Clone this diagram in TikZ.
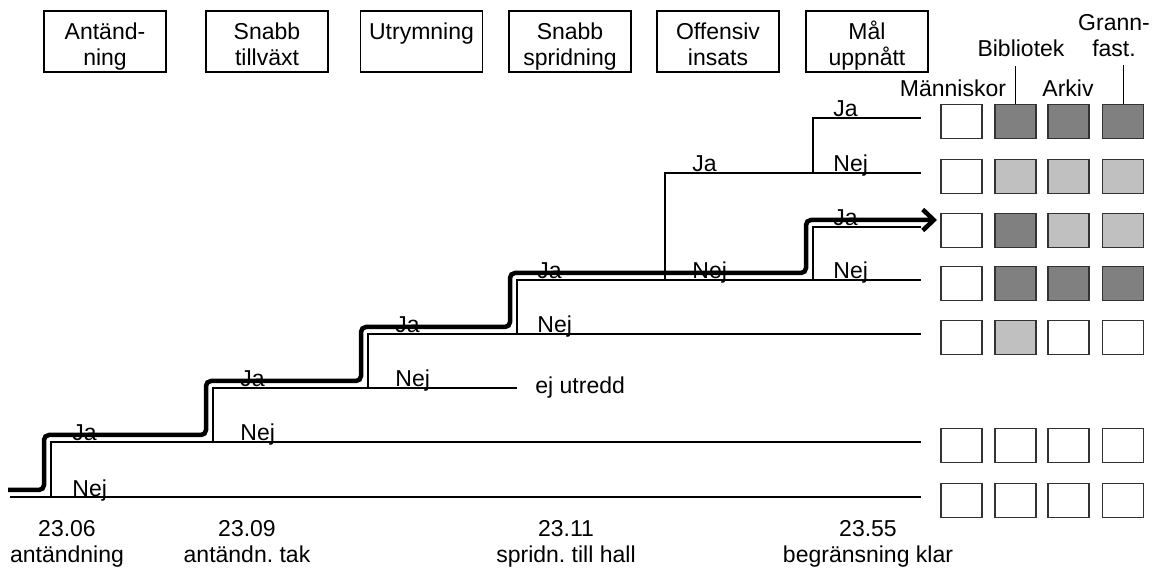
\documentclass[tikz,border=0pt]{standalone}
\usepackage{fontspec}
\setmainfont{Liberation Sans}
\usepackage{tikz}
\usetikzlibrary{arrows.meta,calc}
\definecolor{darkfill}{HTML}{808080}
\definecolor{lightfill}{HTML}{C0C0C0}
\frenchspacing

\begin{document}
\begin{tikzpicture}[%
    x=0.5pt,
    y=-0.5pt,
    every node/.style={font=\fontsize{11.5pt}{13pt}\selectfont},
    branch/.style={line width=0.65pt},
    critpath/.style={%
      ->,
      >={Straight Barb[length=5.5pt,width=10.5pt]},
      line width=2.25pt,
      rounded corners=2.5pt
    },
    stagebox/.style={%
      draw,
      line width=0.75pt,
      text width=59pt,
      inner xsep=1pt,
      inner ysep=1pt,
      align=center,
      text height=13.5pt,
      text depth=15pt
    },
    outcome/.style={%
      draw=black!80,
      line width=0.75pt,
      minimum width=20.5pt,
      minimum height=17pt,
      inner sep=0pt
    },
    answer/.style={anchor=base west, inner sep=0pt},
    timelabel/.style={anchor=north, inner sep=0pt, align=center},
    heading/.style={inner sep=0pt}
  ]
    \useasboundingbox (0,0) rectangle (1158,572);

    % skeden
    \node[stagebox] (ign)    at (105,41.5)   {Antänd-\\ning};
    \node[stagebox] (growth) at (267,41.5)   {Snabb\\tillväxt};
    \node[stagebox] (evac)   at (421.5,41.5) {Utrymning};
    \node[stagebox] (spread) at (570,41.5)   {Snabb\\spridning};
    \node[stagebox] (attack) at (718,41.5)   {Offensiv\\insats};
    \node[stagebox] (goal)   at (867,41.5)   {Mål\\uppnått};

    % handelseträd
    \coordinate (root) at (10,497);
    \coordinate (e0)   at (921,497);
    \draw[branch] (root) -- (e0);
    \foreach \n/\vx/\lo/\hi/\ex/\off in {1/51/497/442/921/21,
                                         2/213/442/388/517/27,
                                         3/368/388/334/921/27,
                                         4/517/334/280/921/20,
                                         5/665/280/173/921/27,
                                         6/813/173/118/921/20,
                                         7/813/280/227/921/20} {
      \coordinate (f\n) at (\vx,\lo);
      \coordinate (k\n) at (\vx,\hi);
      \coordinate (e\n) at (\ex,\hi);
      \draw[branch] (f\n) -- (k\n) -- (e\n);
      \node[answer] (ja\n)  at ($(k\n)+(\off,-1)$) {Ja};
      \node[answer] (nej\n) at ($(f\n)+(\off,-1)$) {Nej};
    }
    \node[anchor=west, inner sep=0pt] (unexpl) at ($(e2)+(18,0)$) {ej utredd};

    % händelseförlopp
    \coordinate (start) at (8,490);
    \coordinate (tip)   at (937,220);
    \draw[critpath] (start) -| ([shift={(-7,-7)}]k1) -| ([shift={(-7,-7)}]k2)
                            -| ([shift={(-7,-7)}]k3) -| ([shift={(-7,-7)}]k4)
                            -| ([shift={(-7,-7)}]k7) -- (tip);

    % konsekvenser
    \foreach \r/\y/\ca/\cb/\cc in {7/118/darkfill/darkfill/darkfill,
                                   6/173/lightfill/lightfill/lightfill,
                                   5/227/darkfill/lightfill/lightfill,
                                   4/280/darkfill/darkfill/darkfill,
                                   3/334/lightfill/white/white,
                                   1/442/white/white/white,
                                   0/497/white/white/white} {
      \node[outcome, fill=white] (q\r-1) at (961.5,\y+3.5)  {};
      \node[outcome, fill=\ca]   (q\r-2) at (1015.5,\y+3.5) {};
      \node[outcome, fill=\cb]   (q\r-3) at (1068.5,\y+3.5) {};
      \node[outcome, fill=\cc]   (q\r-4) at (1123,\y+3.5)   {};
    }

    \node[heading, anchor=base] (people)  at (953,97)  {Människor};
    \node[heading, anchor=base] (library) at (1021,57) {Bibliotek};
    \node[heading, anchor=base] (archive) at (1068,97) {Arkiv};
    \node[heading, anchor=south, align=center] (neighbour) at (1114,57) {Grann-\\fast.};
    \draw[line width=0.5pt, shorten >=4pt] (q7-2.north) -- (q7-2.north |- library.south);
    \draw[line width=0.5pt, shorten >=4pt] (q7-4.north) -- (q7-4.north |- neighbour.south);

    % tider
    \node[timelabel] (t1) at (67,520)  {23.06\\antändning};
    \node[timelabel] (t2) at (247,520) {23.09\\antändn. tak};
    \node[timelabel] (t3) at (566,520) {23.11\\spridn. till hall};
    \node[timelabel] (t4) at (868,520) {23.55\\begränsning klar};
\end{tikzpicture}
\end{document}
